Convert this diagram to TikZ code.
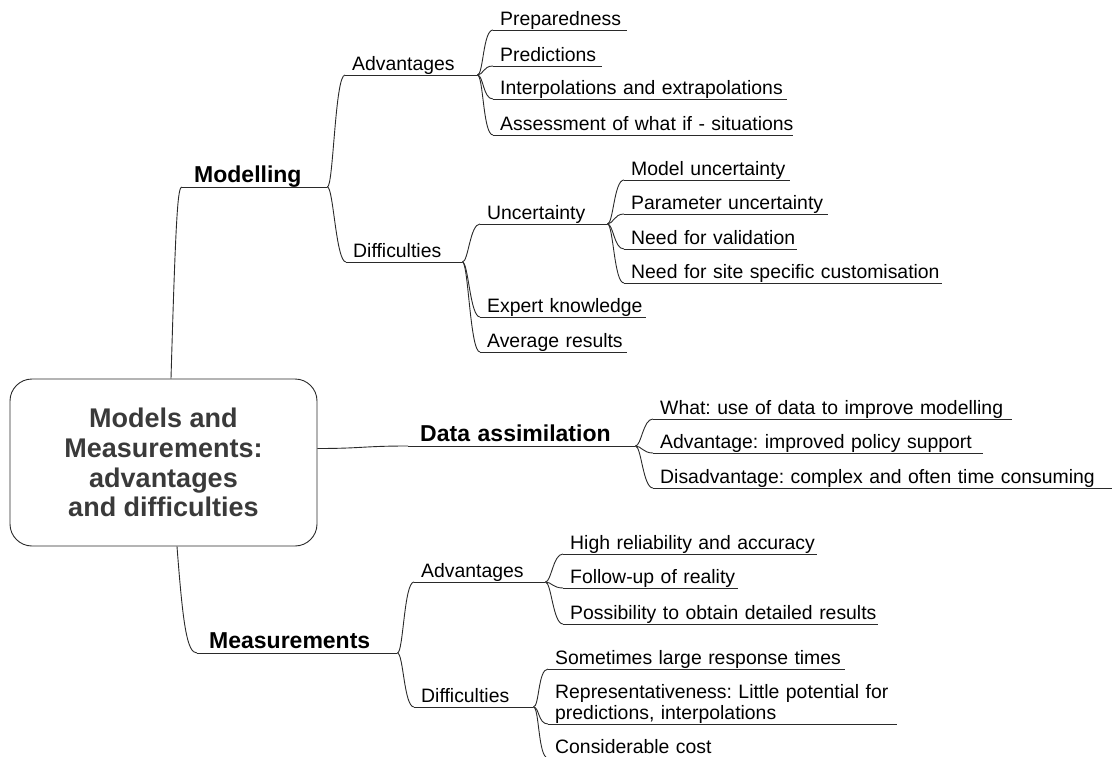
\documentclass[tikz,border=0pt]{standalone}
\usepackage{fontspec}
\setmainfont{Liberation Sans}
\usetikzlibrary{calc}
\definecolor{linec}{HTML}{2A2A2A}
\definecolor{boxtext}{HTML}{3A3A3A}
\frenchspacing
\begin{document}
\frenchspacing
\begin{tikzpicture}[x=1pt,y=-1pt,
  lvlone/.style 2 args={anchor=south west, inner xsep=0pt, inner ysep=4.5pt, text depth=0pt,
     text width={#2-#1}, font=\fontsize{23}{26}\selectfont\bfseries\frenchspacing,
     execute at begin node={\hbox\bgroup\hspace*{12pt}}, execute at end node={\egroup}},
  topicbase/.style 2 args={anchor=south west, inner xsep=0pt, inner ysep=4.2pt, text depth=0pt,
     text width={#2-#1}, font=\fontsize{19.4}{21}\selectfont\frenchspacing},
  topic/.style 2 args={topicbase={#1}{#2},
     execute at begin node={\hbox\bgroup\hspace*{7pt}}, execute at end node={\egroup}},
  rootbox/.style={draw=linec, line width=0.9pt, rounded corners=22pt, minimum width=307pt,
     minimum height=167pt, align=center, text=boxtext, inner sep=0pt,
     font=\fontsize{27}{29.7}\selectfont\bfseries},
  conn/.style={to path={.. controls +(6,0) and +(-10,0) .. (\tikztotarget)}},
  lnk/.style={draw=linec, line width=0.9pt},
]
\useasboundingbox (0,0) rectangle (1112,757);
\clip (0,0) rectangle (1112,757);

% root
\node[rootbox] (root) at (163.5,462.5) {Models and\\Measurements:\\advantages\\and difficulties};

% Modelling branch
\node[lvlone={182}{327}] (mod) at (182,187) {Modelling};
\node[topic={345}{477}] (madv) at (345,75) {Advantages};
\node[topic={346}{462}] (mdif) at (346,262) {Difficulties};
\node[topic={493}{627}] (prep) at (493,30) {Preparedness};
\node[topic={493}{602}] (pred) at (493,66) {Predictions};
\node[topic={493}{787}] (interp) at (493,99) {Interpolations and extrapolations};
\node[topic={493}{793}] (assess) at (493,135) {Assessment of what if - situations};
\node[topic={480}{607}] (unc) at (480,224) {Uncertainty};
\node[topic={480}{646}] (expert) at (480,317) {Expert knowledge};
\node[topic={480}{627}] (avg) at (480,352) {Average results};
\node[topic={624}{790}] (munc) at (624,180) {Model uncertainty};
\node[topic={624}{828}] (punc) at (624,214) {Parameter uncertainty};
\node[topic={624}{797}] (valid) at (624,249) {Need for validation};
\node[topic={624}{942}] (site) at (624,283) {Need for site specific customisation};

% Data assimilation branch
\node[lvlone={408}{635}] (da) at (408,446) {Data assimilation};
\node[topic={653}{1012}] (what) at (653,419) {What: use of data to improve modelling};
\node[topic={653}{983}] (dadv) at (653,453) {Advantage: improved policy support};
\node[topic={653}{1112}] (ddis) at (653,488) {Disadvantage: complex and often time consuming};

% Measurements branch
\node[lvlone={197}{397}] (meas) at (197,653) {Measurements};
\node[topic={414}{545}] (badv) at (414,582) {Advantages};
\node[topic={414}{533}] (bdif) at (414,707) {Difficulties};
\node[topic={563}{817}] (rel) at (563,554) {High reliability and accuracy};
\node[topic={563}{738}] (follow) at (563,588) {Follow-up of reality};
\node[topic={563}{878}] (poss) at (563,624) {Possibility to obtain detailed results};
\node[topic={548}{845}] (resp) at (548,669) {Sometimes large response times};
\node[topicbase={548}{897}, text depth=21pt, align=left] (repr) at (548,724)
  {\mbox{\hspace*{7pt}Representativeness: Little potential for}\\\mbox{\hspace*{7pt}predictions, interpolations}};
\node[topic={548}{720}] (cost) at (548,758) {Considerable cost};

% underlines
\foreach \n in {mod,madv,mdif,prep,pred,interp,assess,unc,expert,avg,munc,punc,valid,site,
                da,what,dadv,ddis,meas,badv,bdif,rel,follow,poss,resp,repr,cost}
  \draw[lnk] (\n.south west) -- (\n.south east);

% connectors from the root
\draw[lnk] ($(root.north)+(7.5,0)$) .. controls +(5,-172) and +(-4,0) .. (mod.south west);
\draw[lnk] ($(root.east)+(0,-14)$) .. controls +(45,0) and +(-45,0) .. (da.south west);
\draw[lnk] ($(root.south)+(13.5,0)$) .. controls +(6,79) and +(-10,0) .. (meas.south west);

% branch connectors
\foreach \a/\b in {mod/madv,mod/mdif,madv/prep,madv/pred,madv/interp,madv/assess,
                   mdif/unc,mdif/expert,mdif/avg,unc/munc,unc/punc,unc/valid,unc/site,
                   da/what,da/dadv,da/ddis,
                   meas/badv,meas/bdif,badv/rel,badv/follow,badv/poss,
                   bdif/resp,bdif/repr,bdif/cost}
  \draw[lnk] (\a.south east) to[conn] (\b.south west);
\end{tikzpicture}
\end{document}
